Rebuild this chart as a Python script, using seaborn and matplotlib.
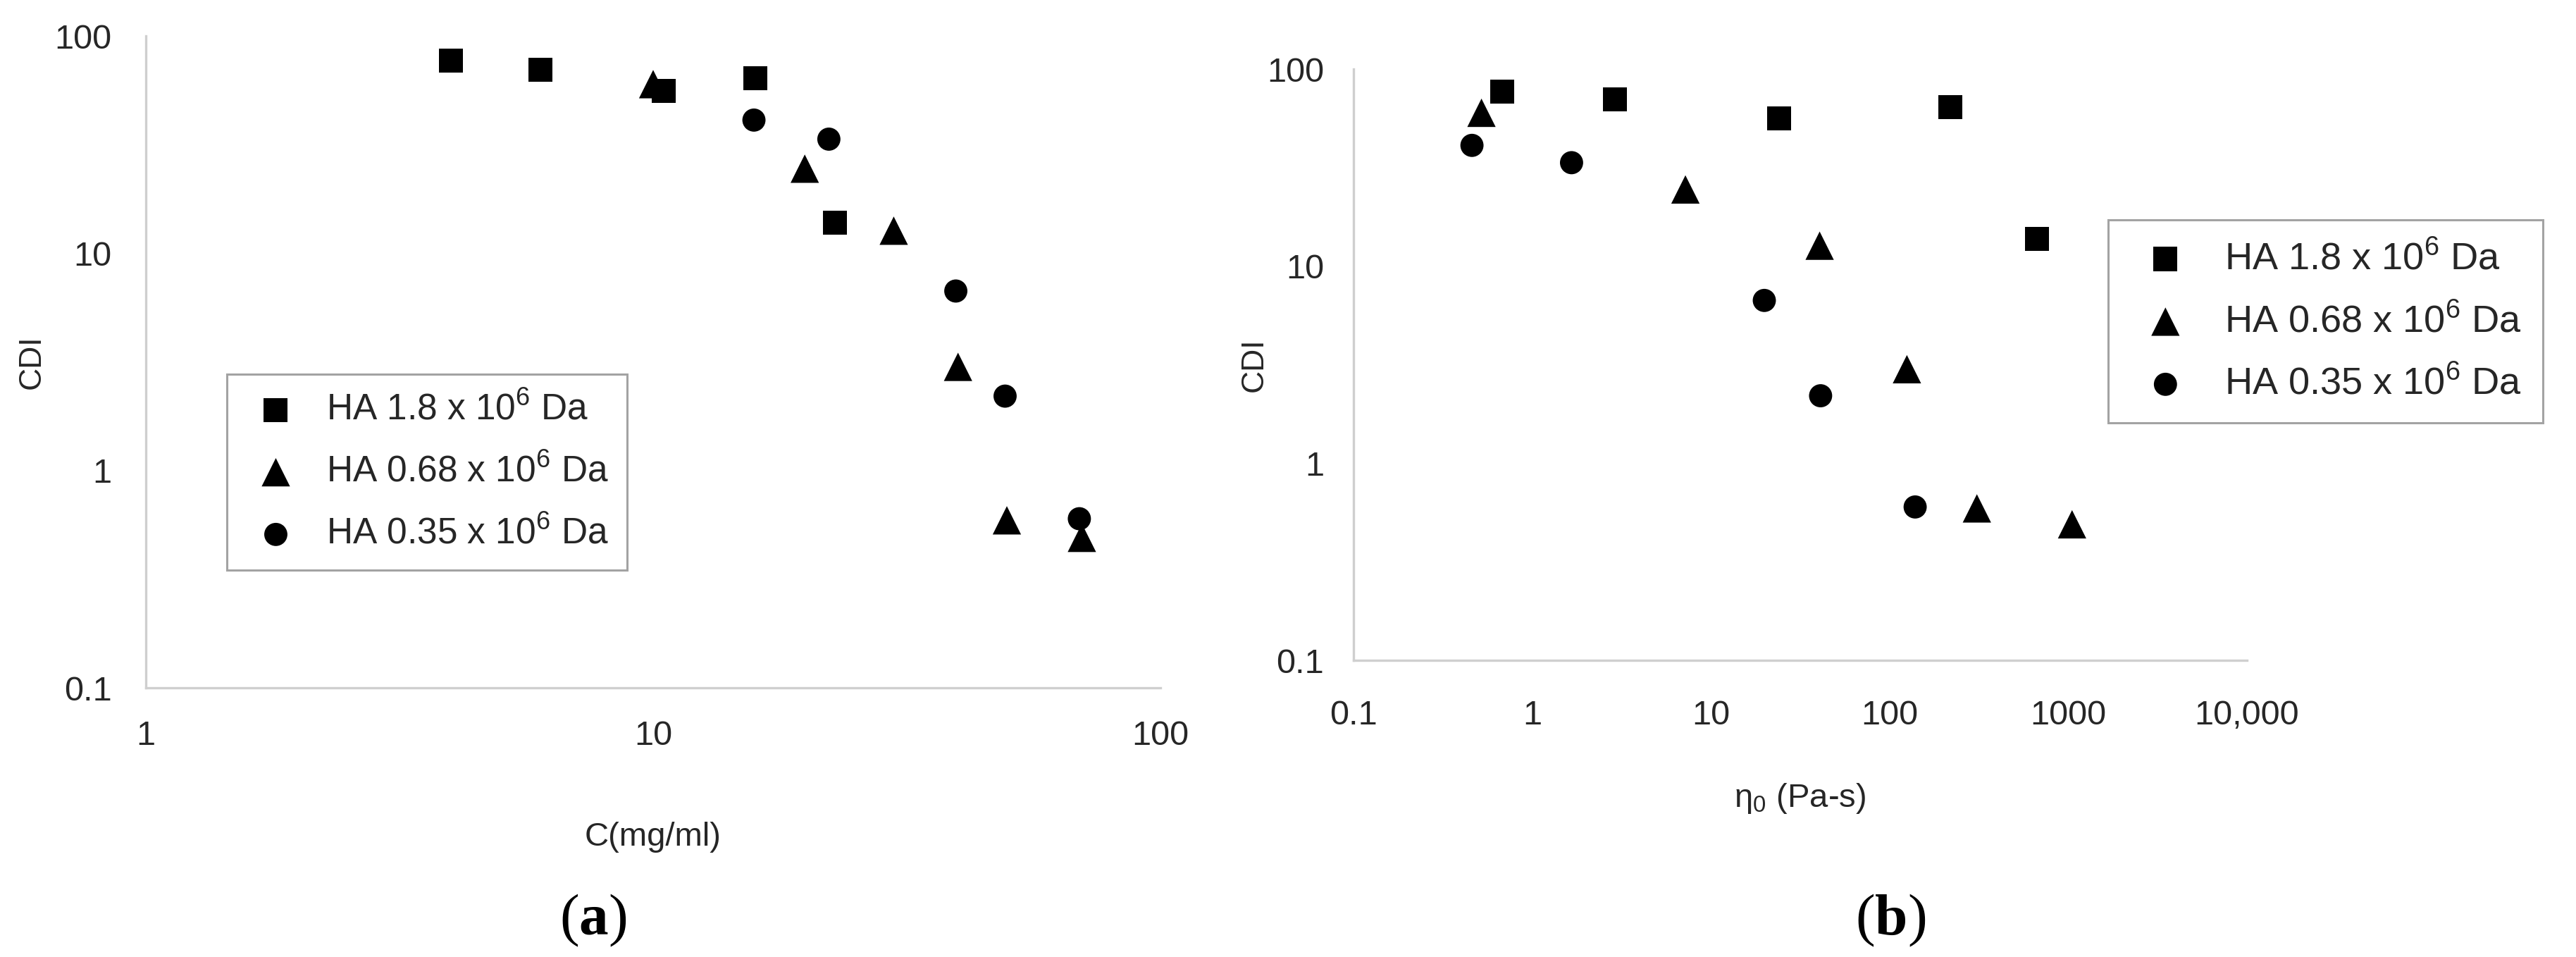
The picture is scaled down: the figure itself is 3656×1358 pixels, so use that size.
import matplotlib.pyplot as plt
import pandas as pd
import seaborn as sns
from matplotlib.ticker import NullLocator

# series names, markers
series_names = ["HA 1.8 x 10$^6$ Da", "HA 0.68 x 10$^6$ Da", "HA 0.35 x 10$^6$ Da"]
series_markers = ["s", "^", "o"]
series_sizes = [600, 840, 560]

# CDI values (same samples in both panels)
cdi_18 = [77, 70, 56, 64, 13.8]
cdi_068 = [60, 24.5, 12.7, 3.0, 0.59, 0.49]
cdi_035 = [41, 33.5, 6.7, 2.2, 0.6]

# panel (a): concentration, mg/ml
conc_18 = [4.0, 6.0, 10.5, 15.9, 22.8]
conc_068 = [10.0, 19.9, 29.8, 39.9, 49.8, 70.0]
conc_035 = [15.8, 22.2, 39.5, 49.4, 69.2]

# panel (b): zero shear viscosity, Pa-s
eta_18 = [0.68, 2.9, 24.1, 218, 669]
eta_068 = [0.52, 7.2, 40.6, 125, 308, 1050]
eta_035 = [0.46, 1.66, 19.9, 41.1, 139]

y_ticks = [0.1, 1, 10, 100]
y_ticklabels = ["0.1", "1", "10", "100"]
xa_ticks = [1, 10, 100]
xa_ticklabels = ["1", "10", "100"]
xb_ticks = [0.1, 1, 10, 100, 1000, 10000]
xb_ticklabels = ["0.1", "1", "10", "100", "1000", "10,000"]


def build_frame():
    rows = []
    for name, cdi, conc, eta in zip(
        series_names,
        [cdi_18, cdi_068, cdi_035],
        [conc_18, conc_068, conc_035],
        [eta_18, eta_068, eta_035],
    ):
        for c, x, e in zip(cdi, conc, eta):
            rows.append({"series": name, "cdi": c, "conc": x, "eta": e})
    return pd.DataFrame(rows)


sns.set_theme(style="white")
plt.rcParams["font.family"] = ["Liberation Sans", "DejaVu Sans"]
plt.rcParams["mathtext.fontset"] = "custom"
plt.rcParams["mathtext.rm"] = "Liberation Sans"
plt.rcParams["mathtext.it"] = "Liberation Sans:italic"
plt.rcParams["mathtext.bf"] = "Liberation Serif:bold"
plt.rcParams["mathtext.default"] = "rm"

TEXT = "#262626"
AXIS = "#cfcfcf"

df = build_frame()

fig = plt.figure(figsize=(36.56, 13.58), dpi=100)
ax_a = fig.add_axes([0.05662, 0.28129, 0.39387, 0.68115])
ax_b = fig.add_axes([0.52544, 0.31001, 0.34683, 0.61782])


def draw_panel(ax, xcol):
    for name, marker, size in zip(series_names, series_markers, series_sizes):
        sub = df[df["series"] == name]
        sns.scatterplot(
            data=sub, x=xcol, y="cdi", marker=marker, s=size,
            color="black", edgecolor="none", linewidth=0, ax=ax, label=name,
        )
    ax.set_xscale("log")
    ax.set_yscale("log")
    ax.set_yticks(y_ticks)
    ax.set_yticklabels(y_ticklabels)
    ax.yaxis.set_minor_locator(NullLocator())
    ax.xaxis.set_minor_locator(NullLocator())
    ax.set_ylim(0.1, 100)
    for side in ["top", "right"]:
        ax.spines[side].set_visible(False)
    for side in ["left", "bottom"]:
        ax.spines[side].set_color(AXIS)
        ax.spines[side].set_linewidth(2.4)
    ax.tick_params(colors=AXIS, labelcolor=TEXT, width=2.2, labelsize=35)
    ax.set_facecolor("white")


# (a) CDI vs concentration
draw_panel(ax_a, "conc")
ax_a.set_xticks(xa_ticks)
ax_a.set_xticklabels(xa_ticklabels)
ax_a.set_xlim(1, 100)
ax_a.tick_params(axis="y", length=14, pad=21)
ax_a.tick_params(axis="x", length=17, pad=16)
ax_a.set_xlabel("C(mg/ml)", fontsize=34, color=TEXT)
ax_a.set_ylabel("CDI", fontsize=32, color=TEXT)
ax_a.xaxis.set_label_coords(0.5, -0.229)
ax_a.yaxis.set_label_coords(-0.112, 0.5)
ax_a.xaxis.label.set_va("center")
ax_a.yaxis.label.set_va("center")

leg_a = ax_a.legend(
    loc="upper left", bbox_to_anchor=(0.0881, 0.609), bbox_transform=fig.transFigure,
    borderaxespad=0, frameon=True, fancybox=False, edgecolor="#8c8c8c",
    fontsize=37, borderpad=0.5, labelspacing=0.75, handlelength=1.7,
    handletextpad=0.55, scatterpoints=1,
)
leg_a.get_frame().set_linewidth(2.2)
for t in leg_a.get_texts():
    t.set_color(TEXT)

# (b) CDI vs zero shear viscosity
draw_panel(ax_b, "eta")
ax_b.set_xticks(xb_ticks)
ax_b.set_xticklabels(xb_ticklabels)
ax_b.set_xlim(0.1, 10000)
ax_b.tick_params(axis="y", length=14, pad=16)
ax_b.tick_params(axis="x", length=12, pad=28)
ax_b.set_xlabel("\u03b7$_0$ (Pa-s)", fontsize=34, color=TEXT)
ax_b.set_ylabel("CDI", fontsize=32, color=TEXT)
ax_b.xaxis.set_label_coords(0.5, -0.234)
ax_b.yaxis.set_label_coords(-0.111, 0.5)
ax_b.xaxis.label.set_va("center")
ax_b.yaxis.label.set_va("center")

leg_b = ax_b.legend(
    loc="upper left", bbox_to_anchor=(0.8184, 0.7703), bbox_transform=fig.transFigure,
    borderaxespad=0, frameon=True, fancybox=False, edgecolor="#8c8c8c",
    fontsize=39, borderpad=0.55, labelspacing=0.7, handlelength=1.9,
    handletextpad=0.6, scatterpoints=1,
)
leg_b.get_frame().set_linewidth(2.2)
for t in leg_b.get_texts():
    t.set_color(TEXT)

# panel letters
fig.text(0.2303, 0.0383, r"($\mathbf{a}$)", family="Liberation Serif",
         fontsize=60, ha="center", va="center", color="black")
fig.text(0.7339, 0.0383, r"($\mathbf{b}$)", family="Liberation Serif",
         fontsize=60, ha="center", va="center", color="black")

fig.savefig("out.png", dpi=100, facecolor="white")
